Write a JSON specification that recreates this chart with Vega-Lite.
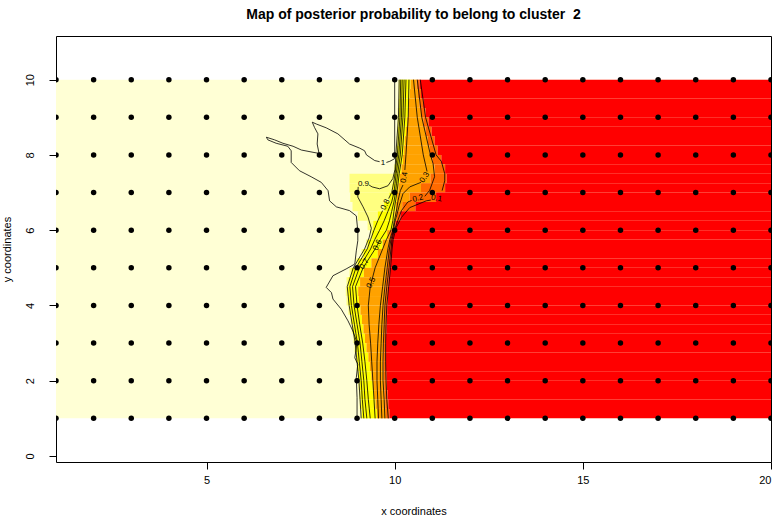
{
"$schema": "https://vega.github.io/schema/vega-lite/v6.json",
"width": 715, "height": 426,
"autosize": {"type": "none"},
"padding": {"left": 56, "top": 36, "right": 5, "bottom": 56},
"background": "white",
"title": {"text": "Map of posterior probability to belong to cluster\u00a0 2", "fontSize": 14, "fontWeight": "bold", "font": "Liberation Sans", "anchor": "middle", "offset": 14, "color": "black"},
"config": {"view": {"stroke": "black", "strokeWidth": 1}, "font": "Liberation Sans"},
"datasets": {
"cells": [
{"y0":1,"y1":10,"x0":1,"x1":20,"p":1},
{"y0":9.75,"y1":10,"x0":10.10,"x1":10.13,"p":0.92},{"y0":9.75,"y1":10,"x0":10.13,"x1":10.42,"p":0.75},{"y0":9.75,"y1":10,"x0":10.42,"x1":10.58,"p":0.45},{"y0":9.75,"y1":10,"x0":10.58,"x1":10.66,"p":0.22},{"y0":9.75,"y1":10,"x0":10.66,"x1":20,"p":0},
{"y0":9.5,"y1":9.75,"x0":10.10,"x1":10.13,"p":0.92},{"y0":9.5,"y1":9.75,"x0":10.13,"x1":10.40,"p":0.75},{"y0":9.5,"y1":9.75,"x0":10.40,"x1":10.62,"p":0.45},{"y0":9.5,"y1":9.75,"x0":10.62,"x1":10.70,"p":0.22},{"y0":9.5,"y1":9.75,"x0":10.70,"x1":20,"p":0},
{"y0":9.25,"y1":9.5,"x0":10.09,"x1":10.12,"p":0.92},{"y0":9.25,"y1":9.5,"x0":10.12,"x1":10.38,"p":0.75},{"y0":9.25,"y1":9.5,"x0":10.38,"x1":10.66,"p":0.45},{"y0":9.25,"y1":9.5,"x0":10.66,"x1":10.76,"p":0.22},{"y0":9.25,"y1":9.5,"x0":10.76,"x1":20,"p":0},
{"y0":9,"y1":9.25,"x0":10.08,"x1":10.11,"p":0.92},{"y0":9,"y1":9.25,"x0":10.11,"x1":10.36,"p":0.75},{"y0":9,"y1":9.25,"x0":10.36,"x1":10.70,"p":0.45},{"y0":9,"y1":9.25,"x0":10.70,"x1":10.82,"p":0.22},{"y0":9,"y1":9.25,"x0":10.82,"x1":20,"p":0},
{"y0":8.75,"y1":9,"x0":10.07,"x1":10.10,"p":0.92},{"y0":8.75,"y1":9,"x0":10.10,"x1":10.33,"p":0.75},{"y0":8.75,"y1":9,"x0":10.33,"x1":10.76,"p":0.45},{"y0":8.75,"y1":9,"x0":10.76,"x1":10.90,"p":0.22},{"y0":8.75,"y1":9,"x0":10.90,"x1":20,"p":0},
{"y0":8.5,"y1":8.75,"x0":10.06,"x1":10.09,"p":0.92},{"y0":8.5,"y1":8.75,"x0":10.09,"x1":10.30,"p":0.75},{"y0":8.5,"y1":8.75,"x0":10.30,"x1":10.82,"p":0.45},{"y0":8.5,"y1":8.75,"x0":10.82,"x1":10.98,"p":0.22},{"y0":8.5,"y1":8.75,"x0":10.98,"x1":20,"p":0},
{"y0":8.25,"y1":8.5,"x0":10.05,"x1":10.08,"p":0.92},{"y0":8.25,"y1":8.5,"x0":10.08,"x1":10.27,"p":0.75},{"y0":8.25,"y1":8.5,"x0":10.27,"x1":10.88,"p":0.45},{"y0":8.25,"y1":8.5,"x0":10.88,"x1":11.06,"p":0.22},{"y0":8.25,"y1":8.5,"x0":11.06,"x1":20,"p":0},
{"y0":8,"y1":8.25,"x0":10.03,"x1":10.06,"p":0.92},{"y0":8,"y1":8.25,"x0":10.06,"x1":10.25,"p":0.75},{"y0":8,"y1":8.25,"x0":10.25,"x1":10.93,"p":0.45},{"y0":8,"y1":8.25,"x0":10.93,"x1":11.14,"p":0.22},{"y0":8,"y1":8.25,"x0":11.14,"x1":20,"p":0},
{"y0":7.75,"y1":8,"x0":10.01,"x1":10.04,"p":0.92},{"y0":7.75,"y1":8,"x0":10.04,"x1":10.22,"p":0.75},{"y0":7.75,"y1":8,"x0":10.22,"x1":11.00,"p":0.45},{"y0":7.75,"y1":8,"x0":11.00,"x1":11.24,"p":0.22},{"y0":7.75,"y1":8,"x0":11.24,"x1":20,"p":0},
{"y0":7.5,"y1":7.75,"x0":9.98,"x1":10.01,"p":0.92},{"y0":7.5,"y1":7.75,"x0":10.01,"x1":10.18,"p":0.75},{"y0":7.5,"y1":7.75,"x0":10.18,"x1":11.06,"p":0.45},{"y0":7.5,"y1":7.75,"x0":11.06,"x1":11.34,"p":0.22},{"y0":7.5,"y1":7.75,"x0":11.34,"x1":20,"p":0},
{"y0":7.25,"y1":7.5,"x0":8.80,"x1":9.98,"p":0.92},{"y0":7.25,"y1":7.5,"x0":9.98,"x1":10.14,"p":0.75},{"y0":7.25,"y1":7.5,"x0":10.14,"x1":10.95,"p":0.45},{"y0":7.25,"y1":7.5,"x0":10.95,"x1":11.38,"p":0.22},{"y0":7.25,"y1":7.5,"x0":11.38,"x1":20,"p":0},
{"y0":7,"y1":7.25,"x0":8.80,"x1":9.94,"p":0.92},{"y0":7,"y1":7.25,"x0":9.94,"x1":10.10,"p":0.75},{"y0":7,"y1":7.25,"x0":10.10,"x1":10.70,"p":0.45},{"y0":7,"y1":7.25,"x0":10.70,"x1":11.34,"p":0.22},{"y0":7,"y1":7.25,"x0":11.34,"x1":20,"p":0},
{"y0":6.75,"y1":7,"x0":8.82,"x1":9.86,"p":0.92},{"y0":6.75,"y1":7,"x0":9.86,"x1":10.06,"p":0.75},{"y0":6.75,"y1":7,"x0":10.06,"x1":10.40,"p":0.45},{"y0":6.75,"y1":7,"x0":10.40,"x1":11.10,"p":0.22},{"y0":6.75,"y1":7,"x0":11.10,"x1":20,"p":0},
{"y0":6.5,"y1":6.75,"x0":8.88,"x1":9.72,"p":0.92},{"y0":6.5,"y1":6.75,"x0":9.72,"x1":10.03,"p":0.75},{"y0":6.5,"y1":6.75,"x0":10.03,"x1":10.20,"p":0.45},{"y0":6.5,"y1":6.75,"x0":10.20,"x1":10.55,"p":0.22},{"y0":6.5,"y1":6.75,"x0":10.55,"x1":20,"p":0},
{"y0":6.25,"y1":6.5,"x0":9.02,"x1":9.55,"p":0.92},{"y0":6.25,"y1":6.5,"x0":9.55,"x1":10.00,"p":0.75},{"y0":6.25,"y1":6.5,"x0":10.00,"x1":10.06,"p":0.45},{"y0":6.25,"y1":6.5,"x0":10.06,"x1":10.15,"p":0.22},{"y0":6.25,"y1":6.5,"x0":10.15,"x1":20,"p":0},
{"y0":6,"y1":6.25,"x0":9.28,"x1":9.43,"p":0.92},{"y0":6,"y1":6.25,"x0":9.43,"x1":9.97,"p":0.75},{"y0":6,"y1":6.25,"x0":9.97,"x1":9.99,"p":0.45},{"y0":6,"y1":6.25,"x0":9.99,"x1":10.03,"p":0.22},{"y0":6,"y1":6.25,"x0":10.03,"x1":20,"p":0},
{"y0":5.75,"y1":6,"x0":9.35,"x1":9.40,"p":0.92},{"y0":5.75,"y1":6,"x0":9.40,"x1":9.80,"p":0.75},{"y0":5.75,"y1":6,"x0":9.80,"x1":9.87,"p":0.45},{"y0":5.75,"y1":6,"x0":9.87,"x1":9.92,"p":0.22},{"y0":5.75,"y1":6,"x0":9.92,"x1":20,"p":0},
{"y0":5.5,"y1":5.75,"x0":9.24,"x1":9.29,"p":0.92},{"y0":5.5,"y1":5.75,"x0":9.29,"x1":9.68,"p":0.75},{"y0":5.5,"y1":5.75,"x0":9.68,"x1":9.84,"p":0.45},{"y0":5.5,"y1":5.75,"x0":9.84,"x1":9.90,"p":0.22},{"y0":5.5,"y1":5.75,"x0":9.90,"x1":20,"p":0},
{"y0":5.25,"y1":5.5,"x0":9.12,"x1":9.17,"p":0.92},{"y0":5.25,"y1":5.5,"x0":9.17,"x1":9.55,"p":0.75},{"y0":5.25,"y1":5.5,"x0":9.55,"x1":9.82,"p":0.45},{"y0":5.25,"y1":5.5,"x0":9.82,"x1":9.89,"p":0.22},{"y0":5.25,"y1":5.5,"x0":9.89,"x1":20,"p":0},
{"y0":5,"y1":5.25,"x0":8.97,"x1":9.02,"p":0.92},{"y0":5,"y1":5.25,"x0":9.02,"x1":9.38,"p":0.75},{"y0":5,"y1":5.25,"x0":9.38,"x1":9.80,"p":0.45},{"y0":5,"y1":5.25,"x0":9.80,"x1":9.88,"p":0.22},{"y0":5,"y1":5.25,"x0":9.88,"x1":20,"p":0},
{"y0":4.75,"y1":5,"x0":8.80,"x1":8.85,"p":0.92},{"y0":4.75,"y1":5,"x0":8.85,"x1":9.18,"p":0.75},{"y0":4.75,"y1":5,"x0":9.18,"x1":9.78,"p":0.45},{"y0":4.75,"y1":5,"x0":9.78,"x1":9.86,"p":0.22},{"y0":4.75,"y1":5,"x0":9.86,"x1":20,"p":0},
{"y0":4.5,"y1":4.75,"x0":8.72,"x1":8.77,"p":0.92},{"y0":4.5,"y1":4.75,"x0":8.77,"x1":9.08,"p":0.75},{"y0":4.5,"y1":4.75,"x0":9.08,"x1":9.76,"p":0.45},{"y0":4.5,"y1":4.75,"x0":9.76,"x1":9.84,"p":0.22},{"y0":4.5,"y1":4.75,"x0":9.84,"x1":20,"p":0},
{"y0":4.25,"y1":4.5,"x0":8.70,"x1":8.75,"p":0.92},{"y0":4.25,"y1":4.5,"x0":8.75,"x1":9.03,"p":0.75},{"y0":4.25,"y1":4.5,"x0":9.03,"x1":9.75,"p":0.45},{"y0":4.25,"y1":4.5,"x0":9.75,"x1":9.82,"p":0.22},{"y0":4.25,"y1":4.5,"x0":9.82,"x1":20,"p":0},
{"y0":4,"y1":4.25,"x0":8.72,"x1":8.77,"p":0.92},{"y0":4,"y1":4.25,"x0":8.77,"x1":9.05,"p":0.75},{"y0":4,"y1":4.25,"x0":9.05,"x1":9.74,"p":0.45},{"y0":4,"y1":4.25,"x0":9.74,"x1":9.81,"p":0.22},{"y0":4,"y1":4.25,"x0":9.81,"x1":20,"p":0},
{"y0":3.75,"y1":4,"x0":8.77,"x1":8.81,"p":0.92},{"y0":3.75,"y1":4,"x0":8.81,"x1":9.09,"p":0.75},{"y0":3.75,"y1":4,"x0":9.09,"x1":9.73,"p":0.45},{"y0":3.75,"y1":4,"x0":9.73,"x1":9.80,"p":0.22},{"y0":3.75,"y1":4,"x0":9.80,"x1":20,"p":0},
{"y0":3.5,"y1":3.75,"x0":8.82,"x1":8.86,"p":0.92},{"y0":3.5,"y1":3.75,"x0":8.86,"x1":9.13,"p":0.75},{"y0":3.5,"y1":3.75,"x0":9.13,"x1":9.72,"p":0.45},{"y0":3.5,"y1":3.75,"x0":9.72,"x1":9.79,"p":0.22},{"y0":3.5,"y1":3.75,"x0":9.79,"x1":20,"p":0},
{"y0":3.25,"y1":3.5,"x0":8.86,"x1":8.90,"p":0.92},{"y0":3.25,"y1":3.5,"x0":8.90,"x1":9.17,"p":0.75},{"y0":3.25,"y1":3.5,"x0":9.17,"x1":9.71,"p":0.45},{"y0":3.25,"y1":3.5,"x0":9.71,"x1":9.78,"p":0.22},{"y0":3.25,"y1":3.5,"x0":9.78,"x1":20,"p":0},
{"y0":3,"y1":3.25,"x0":8.90,"x1":8.94,"p":0.92},{"y0":3,"y1":3.25,"x0":8.94,"x1":9.21,"p":0.75},{"y0":3,"y1":3.25,"x0":9.21,"x1":9.70,"p":0.45},{"y0":3,"y1":3.25,"x0":9.70,"x1":9.77,"p":0.22},{"y0":3,"y1":3.25,"x0":9.77,"x1":20,"p":0},
{"y0":2.75,"y1":3,"x0":8.93,"x1":8.97,"p":0.92},{"y0":2.75,"y1":3,"x0":8.97,"x1":9.25,"p":0.75},{"y0":2.75,"y1":3,"x0":9.25,"x1":9.70,"p":0.45},{"y0":2.75,"y1":3,"x0":9.70,"x1":9.77,"p":0.22},{"y0":2.75,"y1":3,"x0":9.77,"x1":20,"p":0},
{"y0":2.5,"y1":2.75,"x0":8.96,"x1":9.00,"p":0.92},{"y0":2.5,"y1":2.75,"x0":9.00,"x1":9.30,"p":0.75},{"y0":2.5,"y1":2.75,"x0":9.30,"x1":9.70,"p":0.45},{"y0":2.5,"y1":2.75,"x0":9.70,"x1":9.77,"p":0.22},{"y0":2.5,"y1":2.75,"x0":9.77,"x1":20,"p":0},
{"y0":2.25,"y1":2.5,"x0":8.99,"x1":9.03,"p":0.92},{"y0":2.25,"y1":2.5,"x0":9.03,"x1":9.34,"p":0.75},{"y0":2.25,"y1":2.5,"x0":9.34,"x1":9.70,"p":0.45},{"y0":2.25,"y1":2.5,"x0":9.70,"x1":9.77,"p":0.22},{"y0":2.25,"y1":2.5,"x0":9.77,"x1":20,"p":0},
{"y0":2,"y1":2.25,"x0":9.01,"x1":9.05,"p":0.92},{"y0":2,"y1":2.25,"x0":9.05,"x1":9.38,"p":0.75},{"y0":2,"y1":2.25,"x0":9.38,"x1":9.71,"p":0.45},{"y0":2,"y1":2.25,"x0":9.71,"x1":9.78,"p":0.22},{"y0":2,"y1":2.25,"x0":9.78,"x1":20,"p":0},
{"y0":1.75,"y1":2,"x0":9.03,"x1":9.07,"p":0.92},{"y0":1.75,"y1":2,"x0":9.07,"x1":9.42,"p":0.75},{"y0":1.75,"y1":2,"x0":9.42,"x1":9.72,"p":0.45},{"y0":1.75,"y1":2,"x0":9.72,"x1":9.79,"p":0.22},{"y0":1.75,"y1":2,"x0":9.79,"x1":20,"p":0},
{"y0":1.5,"y1":1.75,"x0":9.05,"x1":9.09,"p":0.92},{"y0":1.5,"y1":1.75,"x0":9.09,"x1":9.45,"p":0.75},{"y0":1.5,"y1":1.75,"x0":9.45,"x1":9.73,"p":0.45},{"y0":1.5,"y1":1.75,"x0":9.73,"x1":9.81,"p":0.22},{"y0":1.5,"y1":1.75,"x0":9.81,"x1":20,"p":0},
{"y0":1.25,"y1":1.5,"x0":9.07,"x1":9.11,"p":0.92},{"y0":1.25,"y1":1.5,"x0":9.11,"x1":9.49,"p":0.75},{"y0":1.25,"y1":1.5,"x0":9.49,"x1":9.75,"p":0.45},{"y0":1.25,"y1":1.5,"x0":9.75,"x1":9.83,"p":0.22},{"y0":1.25,"y1":1.5,"x0":9.83,"x1":20,"p":0},
{"y0":1,"y1":1.25,"x0":9.09,"x1":9.13,"p":0.92},{"y0":1,"y1":1.25,"x0":9.13,"x1":9.53,"p":0.75},{"y0":1,"y1":1.25,"x0":9.53,"x1":9.77,"p":0.45},{"y0":1,"y1":1.25,"x0":9.77,"x1":9.86,"p":0.22},{"y0":1,"y1":1.25,"x0":9.86,"x1":20,"p":0}
],
"lines": [
{"id":"L10a","o":1,"x":10.0,"y":10.0},{"id":"L10a","o":2,"x":10.0,"y":7.9},{"id":"L10a","o":3,"x":9.87,"y":7.83},{"id":"L10a","o":4,"x":9.78,"y":7.8},
{"id":"L10b","o":1,"x":9.6,"y":7.82},{"id":"L10b","o":2,"x":9.47,"y":7.85},{"id":"L10b","o":3,"x":9.25,"y":8.0},{"id":"L10b","o":4,"x":9.2,"y":8.11},{"id":"L10b","o":5,"x":9.07,"y":8.18},{"id":"L10b","o":6,"x":8.8,"y":8.29},{"id":"L10b","o":7,"x":8.49,"y":8.56},{"id":"L10b","o":8,"x":8.18,"y":8.72},{"id":"L10b","o":9,"x":7.92,"y":8.82},{"id":"L10b","o":10,"x":7.81,"y":8.87},{"id":"L10b","o":11,"x":7.87,"y":8.73},{"id":"L10b","o":12,"x":7.96,"y":8.56},{"id":"L10b","o":13,"x":7.94,"y":8.29},{"id":"L10b","o":14,"x":7.99,"y":8.04},{"id":"L10b","o":15,"x":7.83,"y":8.07},{"id":"L10b","o":16,"x":7.52,"y":8.13},{"id":"L10b","o":17,"x":7.3,"y":8.23},{"id":"L10b","o":18,"x":7.03,"y":8.31},{"id":"L10b","o":19,"x":6.81,"y":8.4},{"id":"L10b","o":20,"x":6.59,"y":8.47},{"id":"L10b","o":21,"x":6.63,"y":8.4},{"id":"L10b","o":22,"x":6.85,"y":8.31},{"id":"L10b","o":23,"x":7.16,"y":8.23},{"id":"L10b","o":24,"x":7.25,"y":8.11},{"id":"L10b","o":25,"x":7.25,"y":7.8},{"id":"L10b","o":26,"x":7.47,"y":7.58},{"id":"L10b","o":27,"x":7.78,"y":7.42},{"id":"L10b","o":28,"x":8.05,"y":7.27},{"id":"L10b","o":29,"x":8.23,"y":7.05},{"id":"L10b","o":30,"x":8.27,"y":6.78},{"id":"L10b","o":31,"x":8.45,"y":6.62},{"id":"L10b","o":32,"x":8.8,"y":6.52},{"id":"L10b","o":33,"x":8.98,"y":6.38},{"id":"L10b","o":34,"x":9.02,"y":5.98},{"id":"L10b","o":35,"x":9.02,"y":5.72},{"id":"L10b","o":36,"x":8.98,"y":5.45},{"id":"L10b","o":37,"x":8.94,"y":5.1},{"id":"L10b","o":38,"x":8.71,"y":4.97},{"id":"L10b","o":39,"x":8.36,"y":4.79},{"id":"L10b","o":40,"x":8.18,"y":4.48},{"id":"L10b","o":41,"x":8.32,"y":4.34},{"id":"L10b","o":42,"x":8.36,"y":4.17},{"id":"L10b","o":43,"x":8.58,"y":3.9},{"id":"L10b","o":44,"x":8.76,"y":3.59},{"id":"L10b","o":45,"x":8.89,"y":3.32},{"id":"L10b","o":46,"x":9.0,"y":3.01},{"id":"L10b","o":47,"x":8.94,"y":2.61},{"id":"L10b","o":48,"x":9.02,"y":2.44},{"id":"L10b","o":49,"x":8.98,"y":2.08},{"id":"L10b","o":50,"x":9.0,"y":1.55},{"id":"L10b","o":51,"x":9.0,"y":1.0},
{"id":"L9a","o":1,"x":10.12,"y":10},{"id":"L9a","o":2,"x":10.1,"y":9},{"id":"L9a","o":3,"x":10.03,"y":8},{"id":"L9a","o":4,"x":10.01,"y":7.62},{"id":"L9a","o":5,"x":9.95,"y":7.37},{"id":"L9a","o":6,"x":9.82,"y":7.18},{"id":"L9a","o":7,"x":9.6,"y":7.1},{"id":"L9a","o":8,"x":9.4,"y":7.15},{"id":"L9a","o":9,"x":9.32,"y":7.2},
{"id":"L9b","o":1,"x":9.03,"y":7.15},{"id":"L9b","o":2,"x":9.02,"y":6.88},{"id":"L9b","o":3,"x":9.16,"y":6.62},{"id":"L9b","o":4,"x":9.29,"y":6.35},{"id":"L9b","o":5,"x":9.38,"y":6.05},{"id":"L9b","o":6,"x":9.32,"y":5.8},{"id":"L9b","o":7,"x":9.2,"y":5.5},{"id":"L9b","o":8,"x":8.9,"y":5.0},{"id":"L9b","o":9,"x":8.74,"y":4.5},{"id":"L9b","o":10,"x":8.79,"y":4.0},{"id":"L9b","o":11,"x":8.87,"y":3.5},{"id":"L9b","o":12,"x":8.95,"y":3.0},{"id":"L9b","o":13,"x":9.0,"y":2.5},{"id":"L9b","o":14,"x":9.05,"y":2.0},{"id":"L9b","o":15,"x":9.08,"y":1.5},{"id":"L9b","o":16,"x":9.11,"y":1.0},
{"id":"L8a","o":1,"x":10.16,"y":10},{"id":"L8a","o":2,"x":10.14,"y":9},{"id":"L8a","o":3,"x":10.07,"y":8},{"id":"L8a","o":4,"x":10.01,"y":7.5},{"id":"L8a","o":5,"x":9.97,"y":7.25},{"id":"L8a","o":6,"x":9.92,"y":7.0},{"id":"L8a","o":7,"x":9.84,"y":6.84},
{"id":"L8b","o":1,"x":9.68,"y":6.52},{"id":"L8b","o":2,"x":9.55,"y":6.25},{"id":"L8b","o":3,"x":9.45,"y":6.0},{"id":"L8b","o":4,"x":9.36,"y":5.75},{"id":"L8b","o":5,"x":9.27,"y":5.5},{"id":"L8b","o":6,"x":8.97,"y":5.0},{"id":"L8b","o":7,"x":8.81,"y":4.5},{"id":"L8b","o":8,"x":8.85,"y":4.0},{"id":"L8b","o":9,"x":8.93,"y":3.5},{"id":"L8b","o":10,"x":9.01,"y":3.0},{"id":"L8b","o":11,"x":9.06,"y":2.5},{"id":"L8b","o":12,"x":9.11,"y":2.0},{"id":"L8b","o":13,"x":9.14,"y":1.5},{"id":"L8b","o":14,"x":9.18,"y":1.0},
{"id":"L7","o":1,"x":10.2,"y":10},{"id":"L7","o":2,"x":10.18,"y":9},{"id":"L7","o":3,"x":10.11,"y":8},{"id":"L7","o":4,"x":10.04,"y":7.5},{"id":"L7","o":5,"x":10.01,"y":7.25},{"id":"L7","o":6,"x":9.98,"y":7.0},{"id":"L7","o":7,"x":9.92,"y":6.75},{"id":"L7","o":8,"x":9.82,"y":6.5},{"id":"L7","o":9,"x":9.72,"y":6.25},{"id":"L7","o":10,"x":9.6,"y":6.0},{"id":"L7","o":11,"x":9.47,"y":5.75},{"id":"L7","o":12,"x":9.36,"y":5.5},{"id":"L7","o":13,"x":9.06,"y":5.0},{"id":"L7","o":14,"x":8.88,"y":4.5},{"id":"L7","o":15,"x":8.92,"y":4.0},{"id":"L7","o":16,"x":9.0,"y":3.5},{"id":"L7","o":17,"x":9.08,"y":3.0},{"id":"L7","o":18,"x":9.13,"y":2.5},{"id":"L7","o":19,"x":9.18,"y":2.0},{"id":"L7","o":20,"x":9.21,"y":1.5},{"id":"L7","o":21,"x":9.26,"y":1.0},
{"id":"L6","o":1,"x":10.25,"y":10},{"id":"L6","o":2,"x":10.22,"y":9},{"id":"L6","o":3,"x":10.15,"y":8},{"id":"L6","o":4,"x":10.08,"y":7.5},{"id":"L6","o":5,"x":10.05,"y":7.25},{"id":"L6","o":6,"x":10.02,"y":7.0},{"id":"L6","o":7,"x":9.98,"y":6.75},{"id":"L6","o":8,"x":9.92,"y":6.5},{"id":"L6","o":9,"x":9.86,"y":6.25},{"id":"L6","o":10,"x":9.78,"y":6.0},{"id":"L6","o":11,"x":9.62,"y":5.75},{"id":"L6","o":12,"x":9.48,"y":5.5},{"id":"L6","o":13,"x":9.16,"y":5.0},{"id":"L6","o":14,"x":8.96,"y":4.5},{"id":"L6","o":15,"x":9.0,"y":4.0},{"id":"L6","o":16,"x":9.07,"y":3.5},{"id":"L6","o":17,"x":9.15,"y":3.0},{"id":"L6","o":18,"x":9.21,"y":2.5},{"id":"L6","o":19,"x":9.26,"y":2.0},{"id":"L6","o":20,"x":9.3,"y":1.5},{"id":"L6","o":21,"x":9.35,"y":1.0},
{"id":"L5","o":1,"x":10.3,"y":10},{"id":"L5","o":2,"x":10.27,"y":9},{"id":"L5","o":3,"x":10.2,"y":8},{"id":"L5","o":4,"x":10.12,"y":7.5},{"id":"L5","o":5,"x":10.09,"y":7.25},{"id":"L5","o":6,"x":10.06,"y":7.0},{"id":"L5","o":7,"x":10.02,"y":6.75},{"id":"L5","o":8,"x":9.98,"y":6.5},{"id":"L5","o":9,"x":9.95,"y":6.25},{"id":"L5","o":10,"x":9.9,"y":6.0},{"id":"L5","o":11,"x":9.78,"y":5.75},{"id":"L5","o":12,"x":9.68,"y":5.5},{"id":"L5","o":13,"x":9.48,"y":5.0},{"id":"L5","o":14,"x":9.35,"y":4.5},{"id":"L5","o":15,"x":9.3,"y":4.0},{"id":"L5","o":16,"x":9.32,"y":3.5},{"id":"L5","o":17,"x":9.36,"y":3.0},{"id":"L5","o":18,"x":9.39,"y":2.5},{"id":"L5","o":19,"x":9.42,"y":2.0},{"id":"L5","o":20,"x":9.45,"y":1.5},{"id":"L5","o":21,"x":9.48,"y":1.0},
{"id":"L4a","o":1,"x":10.38,"y":10},{"id":"L4a","o":2,"x":10.36,"y":9},{"id":"L4a","o":3,"x":10.3,"y":8},{"id":"L4a","o":4,"x":10.27,"y":7.6},
{"id":"L4b","o":1,"x":10.22,"y":7.2},{"id":"L4b","o":2,"x":10.15,"y":7.05},{"id":"L4b","o":3,"x":10.09,"y":6.79},{"id":"L4b","o":4,"x":10.04,"y":6.48},{"id":"L4b","o":5,"x":9.99,"y":6.25},{"id":"L4b","o":6,"x":9.95,"y":6.0},{"id":"L4b","o":7,"x":9.87,"y":5.75},{"id":"L4b","o":8,"x":9.82,"y":5.5},{"id":"L4b","o":9,"x":9.74,"y":5.0},{"id":"L4b","o":10,"x":9.68,"y":4.5},{"id":"L4b","o":11,"x":9.62,"y":4.0},{"id":"L4b","o":12,"x":9.58,"y":3.5},{"id":"L4b","o":13,"x":9.55,"y":3.0},{"id":"L4b","o":14,"x":9.53,"y":2.5},{"id":"L4b","o":15,"x":9.53,"y":2.0},{"id":"L4b","o":16,"x":9.55,"y":1.5},{"id":"L4b","o":17,"x":9.57,"y":1.0},
{"id":"L3a","o":1,"x":10.5,"y":10},{"id":"L3a","o":2,"x":10.6,"y":9},{"id":"L3a","o":3,"x":10.76,"y":8},{"id":"L3a","o":4,"x":10.86,"y":7.56},
{"id":"L3b","o":1,"x":10.7,"y":7.27},{"id":"L3b","o":2,"x":10.62,"y":7.24},{"id":"L3b","o":3,"x":10.4,"y":7.15},{"id":"L3b","o":4,"x":10.22,"y":6.97},{"id":"L3b","o":5,"x":10.12,"y":6.65},{"id":"L3b","o":6,"x":10.04,"y":6.34},{"id":"L3b","o":7,"x":10.0,"y":6.2},{"id":"L3b","o":8,"x":9.97,"y":6.0},{"id":"L3b","o":9,"x":9.9,"y":5.75},{"id":"L3b","o":10,"x":9.86,"y":5.5},{"id":"L3b","o":11,"x":9.8,"y":5.0},{"id":"L3b","o":12,"x":9.74,"y":4.5},{"id":"L3b","o":13,"x":9.69,"y":4.0},{"id":"L3b","o":14,"x":9.66,"y":3.5},{"id":"L3b","o":15,"x":9.64,"y":3.0},{"id":"L3b","o":16,"x":9.62,"y":2.5},{"id":"L3b","o":17,"x":9.62,"y":2.0},{"id":"L3b","o":18,"x":9.64,"y":1.5},{"id":"L3b","o":19,"x":9.66,"y":1.0},
{"id":"L2a","o":1,"x":10.6,"y":10},{"id":"L2a","o":2,"x":10.72,"y":9},{"id":"L2a","o":3,"x":10.95,"y":8},{"id":"L2a","o":4,"x":11.02,"y":7.77},{"id":"L2a","o":5,"x":11.06,"y":7.42},{"id":"L2a","o":6,"x":10.93,"y":7.06},{"id":"L2a","o":7,"x":10.8,"y":6.9},
{"id":"L2b","o":1,"x":10.45,"y":6.79},{"id":"L2b","o":2,"x":10.35,"y":6.75},{"id":"L2b","o":3,"x":10.18,"y":6.52},{"id":"L2b","o":4,"x":10.07,"y":6.22},{"id":"L2b","o":5,"x":9.99,"y":6.0},{"id":"L2b","o":6,"x":9.93,"y":5.75},{"id":"L2b","o":7,"x":9.9,"y":5.5},{"id":"L2b","o":8,"x":9.85,"y":5.0},{"id":"L2b","o":9,"x":9.79,"y":4.5},{"id":"L2b","o":10,"x":9.74,"y":4.0},{"id":"L2b","o":11,"x":9.72,"y":3.5},{"id":"L2b","o":12,"x":9.7,"y":3.0},{"id":"L2b","o":13,"x":9.69,"y":2.5},{"id":"L2b","o":14,"x":9.69,"y":2.0},{"id":"L2b","o":15,"x":9.72,"y":1.5},{"id":"L2b","o":16,"x":9.74,"y":1.0},
{"id":"L1a","o":1,"x":10.68,"y":10},{"id":"L1a","o":2,"x":10.82,"y":9},{"id":"L1a","o":3,"x":11.1,"y":8},{"id":"L1a","o":4,"x":11.24,"y":7.83},{"id":"L1a","o":5,"x":11.33,"y":7.5},{"id":"L1a","o":6,"x":11.33,"y":7.31},{"id":"L1a","o":7,"x":11.26,"y":7.05},
{"id":"L1b","o":1,"x":10.96,"y":6.8},{"id":"L1b","o":2,"x":10.84,"y":6.78},{"id":"L1b","o":3,"x":10.4,"y":6.6},{"id":"L1b","o":4,"x":10.18,"y":6.34},{"id":"L1b","o":5,"x":10.04,"y":6.07},{"id":"L1b","o":6,"x":9.96,"y":5.75},{"id":"L1b","o":7,"x":9.93,"y":5.5},{"id":"L1b","o":8,"x":9.89,"y":5.0},{"id":"L1b","o":9,"x":9.84,"y":4.5},{"id":"L1b","o":10,"x":9.79,"y":4.0},{"id":"L1b","o":11,"x":9.77,"y":3.5},{"id":"L1b","o":12,"x":9.76,"y":3.0},{"id":"L1b","o":13,"x":9.76,"y":2.5},{"id":"L1b","o":14,"x":9.77,"y":2.0},{"id":"L1b","o":15,"x":9.79,"y":1.5},{"id":"L1b","o":16,"x":9.83,"y":1.0}
],
"labels": [
{"t":"1","x":9.69,"y":7.78},{"t":"0.9","x":9.17,"y":7.22},{"t":"0.8","x":9.76,"y":6.68},{"t":"0.4","x":10.26,"y":7.4},{"t":"0.3","x":10.8,"y":7.4},{"t":"0.2","x":10.62,"y":6.84},{"t":"0.1","x":11.11,"y":6.84},{"t":"0.7","x":9.2,"y":5.1},{"t":"0.6","x":9.55,"y":5.6},{"t":"0.5","x":9.38,"y":4.6}
],
"pts": [
{"x":1,"y":1},{"x":2,"y":1},{"x":3,"y":1},{"x":4,"y":1},{"x":5,"y":1},{"x":6,"y":1},{"x":7,"y":1},{"x":8,"y":1},{"x":9,"y":1},{"x":10,"y":1},{"x":11,"y":1},{"x":12,"y":1},{"x":13,"y":1},{"x":14,"y":1},{"x":15,"y":1},{"x":16,"y":1},{"x":17,"y":1},{"x":18,"y":1},{"x":19,"y":1},{"x":20,"y":1},
{"x":1,"y":2},{"x":2,"y":2},{"x":3,"y":2},{"x":4,"y":2},{"x":5,"y":2},{"x":6,"y":2},{"x":7,"y":2},{"x":8,"y":2},{"x":9,"y":2},{"x":10,"y":2},{"x":11,"y":2},{"x":12,"y":2},{"x":13,"y":2},{"x":14,"y":2},{"x":15,"y":2},{"x":16,"y":2},{"x":17,"y":2},{"x":18,"y":2},{"x":19,"y":2},{"x":20,"y":2},
{"x":1,"y":3},{"x":2,"y":3},{"x":3,"y":3},{"x":4,"y":3},{"x":5,"y":3},{"x":6,"y":3},{"x":7,"y":3},{"x":8,"y":3},{"x":9,"y":3},{"x":10,"y":3},{"x":11,"y":3},{"x":12,"y":3},{"x":13,"y":3},{"x":14,"y":3},{"x":15,"y":3},{"x":16,"y":3},{"x":17,"y":3},{"x":18,"y":3},{"x":19,"y":3},{"x":20,"y":3},
{"x":1,"y":4},{"x":2,"y":4},{"x":3,"y":4},{"x":4,"y":4},{"x":5,"y":4},{"x":6,"y":4},{"x":7,"y":4},{"x":8,"y":4},{"x":9,"y":4},{"x":10,"y":4},{"x":11,"y":4},{"x":12,"y":4},{"x":13,"y":4},{"x":14,"y":4},{"x":15,"y":4},{"x":16,"y":4},{"x":17,"y":4},{"x":18,"y":4},{"x":19,"y":4},{"x":20,"y":4},
{"x":1,"y":5},{"x":2,"y":5},{"x":3,"y":5},{"x":4,"y":5},{"x":5,"y":5},{"x":6,"y":5},{"x":7,"y":5},{"x":8,"y":5},{"x":9,"y":5},{"x":10,"y":5},{"x":11,"y":5},{"x":12,"y":5},{"x":13,"y":5},{"x":14,"y":5},{"x":15,"y":5},{"x":16,"y":5},{"x":17,"y":5},{"x":18,"y":5},{"x":19,"y":5},{"x":20,"y":5},
{"x":1,"y":6},{"x":2,"y":6},{"x":3,"y":6},{"x":4,"y":6},{"x":5,"y":6},{"x":6,"y":6},{"x":7,"y":6},{"x":8,"y":6},{"x":9,"y":6},{"x":10,"y":6},{"x":11,"y":6},{"x":12,"y":6},{"x":13,"y":6},{"x":14,"y":6},{"x":15,"y":6},{"x":16,"y":6},{"x":17,"y":6},{"x":18,"y":6},{"x":19,"y":6},{"x":20,"y":6},
{"x":1,"y":7},{"x":2,"y":7},{"x":3,"y":7},{"x":4,"y":7},{"x":5,"y":7},{"x":6,"y":7},{"x":7,"y":7},{"x":8,"y":7},{"x":9,"y":7},{"x":10,"y":7},{"x":11,"y":7},{"x":12,"y":7},{"x":13,"y":7},{"x":14,"y":7},{"x":15,"y":7},{"x":16,"y":7},{"x":17,"y":7},{"x":18,"y":7},{"x":19,"y":7},{"x":20,"y":7},
{"x":1,"y":8},{"x":2,"y":8},{"x":3,"y":8},{"x":4,"y":8},{"x":5,"y":8},{"x":6,"y":8},{"x":7,"y":8},{"x":8,"y":8},{"x":9,"y":8},{"x":10,"y":8},{"x":11,"y":8},{"x":12,"y":8},{"x":13,"y":8},{"x":14,"y":8},{"x":15,"y":8},{"x":16,"y":8},{"x":17,"y":8},{"x":18,"y":8},{"x":19,"y":8},{"x":20,"y":8},
{"x":1,"y":9},{"x":2,"y":9},{"x":3,"y":9},{"x":4,"y":9},{"x":5,"y":9},{"x":6,"y":9},{"x":7,"y":9},{"x":8,"y":9},{"x":9,"y":9},{"x":10,"y":9},{"x":11,"y":9},{"x":12,"y":9},{"x":13,"y":9},{"x":14,"y":9},{"x":15,"y":9},{"x":16,"y":9},{"x":17,"y":9},{"x":18,"y":9},{"x":19,"y":9},{"x":20,"y":9},
{"x":1,"y":10},{"x":2,"y":10},{"x":3,"y":10},{"x":4,"y":10},{"x":5,"y":10},{"x":6,"y":10},{"x":7,"y":10},{"x":8,"y":10},{"x":9,"y":10},{"x":10,"y":10},{"x":11,"y":10},{"x":12,"y":10},{"x":13,"y":10},{"x":14,"y":10},{"x":15,"y":10},{"x":16,"y":10},{"x":17,"y":10},{"x":18,"y":10},{"x":19,"y":10},{"x":20,"y":10}
]
},
"layer": [
{"data": {"name": "cells"}, "mark": {"type": "rect"},
 "encoding": {
  "x": {"field": "x0", "type": "quantitative", "scale": {"domain": [1, 20], "nice": false, "zero": false},
        "axis": {"values": [5, 10, 15, 20], "title": "x coordinates", "grid": false, "domain": false, "tickColor": "black", "tickSize": 7, "labelColor": "black", "labelFontSize": 11, "labelFont": "Liberation Sans", "labelPadding": 5, "titleColor": "black", "titleFontSize": 11, "titleFont": "Liberation Sans", "titleFontWeight": "normal", "titlePadding": 20}},
  "x2": {"field": "x1"},
  "y": {"field": "y0", "type": "quantitative", "scale": {"domain": [-0.16, 11.16], "nice": false, "zero": false},
        "axis": {"values": [0, 2, 4, 6, 8, 10], "title": "y coordinates", "grid": false, "domain": false, "tickColor": "black", "tickSize": 7, "labelColor": "black", "labelFontSize": 11, "labelFont": "Liberation Sans", "labelAngle": -90, "labelAlign": "center", "labelBaseline": "bottom", "labelPadding": 14, "titleColor": "black", "titleFontSize": 11, "titleFont": "Liberation Sans", "titleFontWeight": "normal", "titlePadding": 12}},
  "y2": {"field": "y1"},
  "color": {"field": "p", "type": "quantitative", "scale": {"type": "threshold", "domain": [0.1, 0.3, 0.6, 0.85, 0.96], "range": ["#FF0000", "#FF6A00", "#FFA200", "#FFFF00", "#FFFF80", "#FFFFD5"]}, "legend": null}
 }},
{"data": {"name": "lines"}, "mark": {"type": "line", "color": "black", "strokeWidth": 0.8, "clip": true},
 "encoding": {"x": {"field": "x", "type": "quantitative"}, "y": {"field": "y", "type": "quantitative"}, "detail": {"field": "id"}, "order": {"field": "o", "type": "quantitative"}}},
{"data": {"name": "labels"}, "transform": [{"filter": "datum.t == '1' || datum.t == '0.9'"}], "mark": {"type": "text", "fontSize": 8, "font": "Liberation Sans", "color": "black", "align": "center", "baseline": "middle"},
 "encoding": {"x": {"field": "x", "type": "quantitative"}, "y": {"field": "y", "type": "quantitative"}, "text": {"field": "t"}}},
{"data": {"name": "labels"}, "transform": [{"filter": "datum.t == '0.1'"}], "mark": {"type": "text", "fontSize": 8, "font": "Liberation Sans", "color": "black", "align": "center", "baseline": "middle", "angle": 10},
 "encoding": {"x": {"field": "x", "type": "quantitative"}, "y": {"field": "y", "type": "quantitative"}, "text": {"field": "t"}}},
{"data": {"name": "labels"}, "transform": [{"filter": "datum.t == '0.2'"}], "mark": {"type": "text", "fontSize": 8, "font": "Liberation Sans", "color": "black", "align": "center", "baseline": "middle", "angle": -15},
 "encoding": {"x": {"field": "x", "type": "quantitative"}, "y": {"field": "y", "type": "quantitative"}, "text": {"field": "t"}}},
{"data": {"name": "labels"}, "transform": [{"filter": "datum.t == '0.3' || datum.t == '0.7'"}], "mark": {"type": "text", "fontSize": 8, "font": "Liberation Sans", "color": "black", "align": "center", "baseline": "middle", "angle": -55},
 "encoding": {"x": {"field": "x", "type": "quantitative"}, "y": {"field": "y", "type": "quantitative"}, "text": {"field": "t"}}},
{"data": {"name": "labels"}, "transform": [{"filter": "datum.t == '0.8' || datum.t == '0.6' || datum.t == '0.5'"}], "mark": {"type": "text", "fontSize": 8, "font": "Liberation Sans", "color": "black", "align": "center", "baseline": "middle", "angle": -65},
 "encoding": {"x": {"field": "x", "type": "quantitative"}, "y": {"field": "y", "type": "quantitative"}, "text": {"field": "t"}}},
{"data": {"name": "labels"}, "transform": [{"filter": "datum.t == '0.4'"}], "mark": {"type": "text", "fontSize": 8, "font": "Liberation Sans", "color": "black", "align": "center", "baseline": "middle", "angle": -80},
 "encoding": {"x": {"field": "x", "type": "quantitative"}, "y": {"field": "y", "type": "quantitative"}, "text": {"field": "t"}}},
{"data": {"name": "pts"}, "mark": {"type": "circle", "color": "black", "size": 30, "opacity": 1, "clip": true},
 "encoding": {"x": {"field": "x", "type": "quantitative"}, "y": {"field": "y", "type": "quantitative"}}}
]
}
